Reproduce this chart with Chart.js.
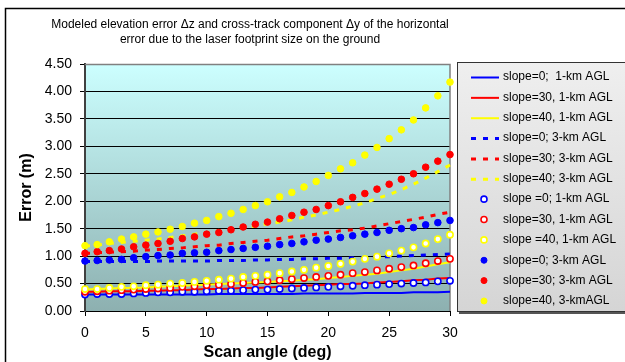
<!DOCTYPE html>
<html>
<head>
<meta charset="utf-8">
<script src="https://cdn.jsdelivr.net/npm/chart.js@4.4.1/dist/chart.umd.min.js"></script>
<style>
  html, body { margin: 0; padding: 0; background: #fff; }
  #wrap { width: 625px; height: 362px; position: relative; }
</style>
</head>
<body>
<div id="wrap"><canvas id="chart"></canvas></div>
<script>
// scan angle, deg
const angles = [0,1,2,3,4,5,6,7,8,9,10,11,12,13,14,15,16,17,18,19,20,21,22,23,24,25,26,27,28,29,30];

// lines (solid = 1 km AGL, dashed = 3 km AGL)
const line1kmS0  = [0.30,0.30,0.30,0.30,0.30,0.30,0.30,0.30,0.30,0.30,0.30,0.31,0.31,0.31,0.31,0.31,0.31,0.31,0.32,0.32,0.32,0.32,0.32,0.33,0.33,0.33,0.33,0.34,0.34,0.34,0.35];
const line1kmS30 = [0.35,0.35,0.36,0.36,0.36,0.37,0.37,0.38,0.38,0.39,0.40,0.40,0.41,0.42,0.42,0.43,0.44,0.45,0.46,0.47,0.48,0.49,0.49,0.50,0.52,0.53,0.54,0.56,0.57,0.59,0.60];
const line1kmS40 = [0.39,0.40,0.41,0.42,0.42,0.43,0.44,0.45,0.46,0.47,0.48,0.49,0.50,0.51,0.52,0.53,0.54,0.55,0.57,0.58,0.60,0.62,0.64,0.66,0.68,0.71,0.74,0.77,0.81,0.85,0.89];
const line3kmS0  = [0.90,0.90,0.90,0.90,0.90,0.90,0.91,0.91,0.91,0.91,0.91,0.92,0.92,0.92,0.93,0.93,0.94,0.94,0.95,0.95,0.96,0.96,0.97,0.98,0.99,0.99,1.00,1.01,1.02,1.03,1.04];
const line3kmS30 = [1.05,1.06,1.07,1.08,1.09,1.11,1.12,1.14,1.15,1.17,1.19,1.20,1.23,1.25,1.27,1.29,1.32,1.35,1.37,1.40,1.43,1.46,1.48,1.51,1.55,1.59,1.63,1.67,1.71,1.76,1.80];
const line3kmS40 = [1.18,1.20,1.23,1.25,1.27,1.29,1.31,1.34,1.37,1.40,1.43,1.46,1.49,1.52,1.55,1.59,1.62,1.66,1.71,1.75,1.80,1.85,1.91,1.97,2.05,2.12,2.21,2.31,2.42,2.54,2.66];

// markers (open = 1 km AGL, filled = 3 km AGL)
const dot1kmS0  = [0.30,0.31,0.31,0.31,0.32,0.33,0.34,0.34,0.35,0.35,0.36,0.37,0.37,0.38,0.39,0.39,0.40,0.41,0.42,0.43,0.44,0.45,0.46,0.47,0.48,0.49,0.50,0.51,0.52,0.54,0.55];
const dot1kmS30 = [0.35,0.36,0.37,0.38,0.39,0.40,0.41,0.42,0.44,0.45,0.47,0.48,0.49,0.51,0.53,0.54,0.56,0.58,0.60,0.62,0.64,0.66,0.69,0.71,0.74,0.77,0.80,0.83,0.87,0.91,0.95];
const dot1kmS40 = [0.40,0.40,0.42,0.44,0.45,0.47,0.48,0.50,0.51,0.53,0.55,0.57,0.59,0.62,0.64,0.66,0.69,0.72,0.75,0.79,0.82,0.86,0.90,0.95,0.99,1.05,1.10,1.16,1.23,1.31,1.39];
const dot3kmS0  = [0.91,0.92,0.93,0.94,0.97,0.99,1.01,1.02,1.05,1.06,1.07,1.10,1.12,1.14,1.16,1.18,1.21,1.23,1.26,1.29,1.31,1.34,1.37,1.40,1.43,1.47,1.50,1.52,1.57,1.61,1.65];
const dot3kmS30 = [1.05,1.08,1.10,1.13,1.17,1.20,1.23,1.27,1.32,1.35,1.40,1.43,1.48,1.53,1.58,1.62,1.68,1.74,1.80,1.85,1.92,1.99,2.07,2.14,2.22,2.31,2.40,2.50,2.62,2.73,2.85];
const dot3kmS40 = [1.19,1.21,1.26,1.31,1.35,1.40,1.44,1.49,1.54,1.60,1.65,1.72,1.78,1.85,1.92,1.99,2.08,2.16,2.26,2.36,2.47,2.59,2.70,2.84,2.98,3.14,3.30,3.48,3.70,3.92,4.17];

const seriesNames = [
  'slope=0;  1-km AGL', 'slope=30, 1-km AGL', 'slope=40, 1-km AGL',
  'slope=0; 3-km AGL', 'slope=30; 3-km AGL', 'slope=40; 3-km AGL',
  'slope =0; 1-km AGL', 'slope=30, 1-km AGL', 'slope =40, 1-km AGL',
  'slope=0; 3-km AGL', 'slope=30; 3-km AGL', 'slope=40, 3-kmAGL'
];
const titleLines = [
  'Modeled elevation error \u0394z and cross-track component \u0394y of the horizontal',
  'error due to the laser footprint size on the ground'
];

const BLUE = '#0000ff', RED = '#ff0000', YELLOW = '#ffff00';
const FONT = "'Liberation Sans', Arial, sans-serif";

const pts = arr => arr.map((v, i) => ({ x: angles[i], y: v }));

function lineSet(i, arr, color, dashed) {
  return {
    label: seriesNames[i], data: pts(arr), borderColor: color, backgroundColor: color,
    borderWidth: dashed ? 3 : 2, borderDash: dashed ? [5, 7] : [], pointRadius: 0,
    order: 12 - i, clip: false
  };
}
function dotSet(i, arr, color, filled) {
  return {
    label: seriesNames[i], data: pts(arr), showLine: false,
    borderColor: color, backgroundColor: filled ? color : '#ffffff',
    pointRadius: filled ? 3.3 : 3.1, pointBorderWidth: filled ? 1 : 1.6,
    order: 12 - i, clip: false
  };
}

const datasets = [
  lineSet(0, line1kmS0, BLUE, false),
  lineSet(1, line1kmS30, RED, false),
  lineSet(2, line1kmS40, YELLOW, false),
  lineSet(3, line3kmS0, BLUE, true),
  lineSet(4, line3kmS30, RED, true),
  lineSet(5, line3kmS40, YELLOW, true),
  dotSet(6, dot1kmS0, BLUE, false),
  dotSet(7, dot1kmS30, RED, false),
  dotSet(8, dot1kmS40, YELLOW, false),
  dotSet(9, dot3kmS0, BLUE, true),
  dotSet(10, dot3kmS30, RED, true),
  dotSet(11, dot3kmS40, YELLOW, true)
];

// frame, plot background, legend box
const decor = {
  id: 'decor',
  afterLayout(chart) {
    // title centred like the original, not over the full canvas
    const t = chart.titleBlock;
    if (t) { t.left = 0; t.right = 500; t.width = 500; }
  },
  beforeDraw(chart) {
    const { ctx, chartArea: a } = chart;
    ctx.save();
    ctx.fillStyle = '#fff';
    ctx.fillRect(0, 0, chart.width, chart.height);
    ctx.strokeStyle = '#000';
    ctx.lineWidth = 1.5;
    ctx.strokeRect(5.5, 8.5, chart.width + 20, chart.height + 20);
    const g = ctx.createLinearGradient(0, a.top, 0, a.bottom);
    g.addColorStop(0, '#ccffff');
    g.addColorStop(1, '#8db0b0');
    ctx.fillStyle = g;
    ctx.fillRect(a.left, a.top, a.right - a.left, a.bottom - a.top);
    ctx.restore();
  },
  beforeDatasetsDraw(chart) {
    const { ctx, chartArea: a } = chart;
    ctx.save();
    ctx.strokeStyle = '#808080';
    ctx.lineWidth = 1.5;
    ctx.beginPath();
    ctx.moveTo(a.left, a.top + 0.5);
    ctx.lineTo(a.right, a.top + 0.5);
    ctx.lineTo(a.right, a.bottom);
    ctx.stroke();
    ctx.restore();
  },
  afterDraw(chart) {
    const ctx = chart.ctx;
    const bx = 457, by = 62, bw = 200, bh = 249;
    ctx.save();
    // shadow
    ctx.fillStyle = '#555';
    ctx.fillRect(bx + 2, by + bh, bw, 3);
    const g = ctx.createLinearGradient(0, by, 0, by + bh);
    g.addColorStop(0, '#efefef');
    g.addColorStop(1, '#d5d5d5');
    ctx.fillStyle = g;
    ctx.fillRect(bx, by, bw, bh);
    ctx.strokeStyle = '#333';
    ctx.lineWidth = 1;
    ctx.strokeRect(bx + 0.5, by + 0.5, bw, bh);

    ctx.font = '12px ' + FONT;
    ctx.textBaseline = 'middle';
    ctx.textAlign = 'left';
    chart.data.datasets.forEach((ds, i) => {
      const y = 77 + i * 20.36;
      if (ds.showLine === false) {
        ctx.beginPath();
        ctx.arc(484, y, 3, 0, Math.PI * 2);
        ctx.fillStyle = ds.backgroundColor;
        ctx.fill();
        ctx.lineWidth = ds.pointBorderWidth;
        ctx.strokeStyle = ds.borderColor;
        ctx.stroke();
      } else {
        ctx.beginPath();
        ctx.setLineDash(ds.borderDash);
        ctx.lineWidth = ds.borderWidth;
        ctx.strokeStyle = ds.borderColor;
        ctx.moveTo(471, y + 0.5);
        ctx.lineTo(499, y + 0.5);
        ctx.stroke();
        ctx.setLineDash([]);
      }
      ctx.fillStyle = '#000';
      ctx.fillText(ds.label, 503, y);
    });
    ctx.restore();
  }
};

new Chart(document.getElementById('chart'), {
  type: 'line',
  data: { datasets },
  options: {
    responsive: true,
    maintainAspectRatio: false,
    animation: false,
    devicePixelRatio: 1,
    layout: { padding: { left: 0, right: 175, top: 0, bottom: 0 } },
    plugins: {
      legend: { display: false },
      tooltip: { enabled: false },
      title: {
        display: true,
        text: titleLines,
        color: '#000',
        font: { family: FONT, size: 12, weight: 'normal', lineHeight: 1.25 },
        padding: { top: 17.5, bottom: 16.5 }
      }
    },
    scales: {
      x: {
        type: 'linear',
        min: 0, max: 30,
        afterFit(s) { s.height = 51; },
        ticks: { stepSize: 5, padding: 9, color: '#000', font: { family: FONT, size: 14 } },
        grid: { drawOnChartArea: false, drawTicks: true, tickLength: 5, color: '#000' },
        border: { color: '#000', width: 1 },
        title: {
          display: true, text: 'Scan angle (deg)', color: '#000',
          font: { family: FONT, size: 16, weight: 'bold' },
          padding: { top: 0, bottom: 0 }
        }
      },
      y: {
        min: 0, max: 4.5,
        afterFit(s) { s.width = 85; },
        ticks: {
          stepSize: 0.5, padding: 8, color: '#000',
          font: { family: FONT, size: 14 },
          callback: v => v.toFixed(2)
        },
        grid: {
          color: c => (c.tick && c.tick.value === 4.5 ? '#808080' : '#000'),
          tickColor: '#000', tickLength: 5, lineWidth: 1
        },
        border: { color: '#404040', width: 2 },
        title: {
          display: true, text: 'Error (m)', color: '#000',
          font: { family: FONT, size: 16, weight: 'bold' },
          padding: { top: 17, bottom: 0 }
        }
      }
    }
  },
  plugins: [decor]
});
</script>
</body>
</html>
